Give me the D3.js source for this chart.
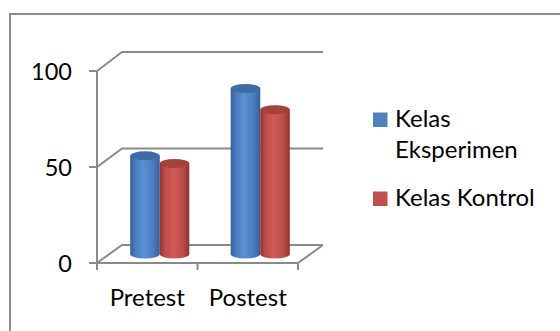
<!DOCTYPE html>
<html>
<head>
<meta charset="utf-8" />
<title>Pretest Postest</title>
<style>
html, body {
  margin: 0;
  background-color: #FFFFFF;
}
svg {
  display: block;
}
</style>
</head>
<body>
<script src="https://d3js.org/d3.v7.min.js"></script>
<script>

// data
var categories = ["Pretest", "Postest"];
var seriesNames = ["Kelas Eksperimen", "Kelas Kontrol"];
var eksperimen = [51, 86];
var kontrol = [47, 75];
var yTicks = [0, 50, 100];

var seriesValues = [eksperimen, kontrol];
var colors = [
  {dark: "#385f94", mid: "#4a7cbf", light: "#5c90d3", top: "#3e6ba6", legend: "#4f81bd"},
  {dark: "#8e3532", mid: "#bd4c49", light: "#d15c59", top: "#a5403d", legend: "#c0504d"}
];

var W = 560, H = 331;
var font = "Lato, 'Open Sans', sans-serif";

var svg = d3.select("body").append("svg")
  .attr("width", W)
  .attr("height", H);

// outer frame (runs off the right and bottom)
svg.append("rect")
  .attr("x", 10).attr("y", 14)
  .attr("width", 600).attr("height", 400)
  .attr("fill", "none")
  .attr("stroke", "#8c8c8c")
  .attr("stroke-width", 2);

// 3d box: front plane and back plane
var dx = 25;
var yFront = d3.scaleLinear().domain([0, 100]).range([263, 71]);
var yBack = d3.scaleLinear().domain([0, 100]).range([245, 52]);
var yMid = d3.scaleLinear().domain([0, 100]).range([254, 61.5]);

var x0 = d3.scaleBand().domain(categories).range([97, 298]);
var x1 = d3.scaleBand().domain(d3.range(seriesNames.length))
  .range([0, x0.bandwidth()]).paddingOuter(0.70);

var grid = svg.append("g")
  .attr("fill", "none")
  .attr("stroke", "#8a8a8a")
  .attr("stroke-width", 2);

var xL = x0.range()[0], xR = x0.range()[1];

// wall gridlines
yTicks.forEach(function(t) {
  grid.append("path")
    .attr("d", "M" + xL + "," + yFront(t) + "L" + (xL + dx) + "," + yBack(t) + "L" + (xR + dx) + "," + yBack(t));
  // tick marks on the value axis
  grid.append("line")
    .attr("x1", xL - 8).attr("x2", xL)
    .attr("y1", yFront(t)).attr("y2", yFront(t));
});

// floor front edge
grid.append("path")
  .attr("d", "M" + xL + "," + yFront(0) + "L" + xR + "," + yFront(0) + "L" + (xR + dx) + "," + yBack(0));

// value axis
grid.append("line")
  .attr("x1", xL).attr("x2", xL)
  .attr("y1", yFront(100)).attr("y2", yFront(0));

// category ticks
var catEdges = categories.map(function(c) { return x0(c); }).concat([xR]);
catEdges.forEach(function(x) {
  grid.append("line")
    .attr("x1", x).attr("x2", x)
    .attr("y1", yFront(0)).attr("y2", yFront(0) + 7);
});

// gradients for the cylinders
var defs = svg.append("defs");
colors.forEach(function(c, i) {
  var g = defs.append("linearGradient")
    .attr("id", "cyl" + i)
    .attr("x1", "0%").attr("x2", "100%")
    .attr("y1", "0%").attr("y2", "0%");
  g.append("stop").attr("offset", "0%").attr("stop-color", c.dark);
  g.append("stop").attr("offset", "18%").attr("stop-color", c.mid);
  g.append("stop").attr("offset", "45%").attr("stop-color", c.light);
  g.append("stop").attr("offset", "78%").attr("stop-color", c.mid);
  g.append("stop").attr("offset", "100%").attr("stop-color", c.dark);
});

// cylinders
var ry = 4.5;
var bars = svg.append("g");
categories.forEach(function(cat, ci) {
  seriesValues.forEach(function(vals, si) {
    var w = x1.bandwidth();
    var cx = x0(cat) + x1(si) + w / 2 + dx / 2;
    var yt = yMid(vals[ci]);
    var yb = yMid(0);
    var b = bars.append("g");
    b.append("ellipse")
      .attr("cx", cx).attr("cy", yb)
      .attr("rx", w / 2).attr("ry", ry)
      .attr("fill", "url(#cyl" + si + ")");
    b.append("rect")
      .attr("x", cx - w / 2).attr("y", yt)
      .attr("width", w).attr("height", yb - yt)
      .attr("fill", "url(#cyl" + si + ")");
    b.append("ellipse")
      .attr("cx", cx).attr("cy", yt)
      .attr("rx", w / 2).attr("ry", ry)
      .attr("fill", colors[si].top);
  });
});

// value labels
svg.append("g").selectAll("text")
  .data(yTicks)
  .join("text")
  .attr("x", 72)
  .attr("y", function(d) { return yFront(d) + 9; })
  .attr("text-anchor", "end")
  .attr("font-family", font)
  .attr("font-size", 23.5)
  .attr("fill", "#000")
  .text(function(d) { return d; });

// category labels
svg.append("g").selectAll("text")
  .data(categories)
  .join("text")
  .attr("x", function(d) { return x0(d) + x0.bandwidth() / 2; })
  .attr("y", 306)
  .attr("text-anchor", "middle")
  .attr("font-family", font)
  .attr("font-size", 24)
  .attr("fill", "#000")
  .text(function(d) { return d; });

// legend
var legendRows = [
  {lines: ["Kelas", "Eksperimen"], y: 127},
  {lines: ["Kelas Kontrol"], y: 206}
];
var legend = svg.append("g");
legendRows.forEach(function(r, i) {
  legend.append("rect")
    .attr("x", 373).attr("y", r.y - 14.5)
    .attr("width", 14.5).attr("height", 14.5)
    .attr("fill", colors[i].legend);
  r.lines.forEach(function(line, li) {
    legend.append("text")
      .attr("x", 395)
      .attr("y", r.y + li * 31)
      .attr("font-family", font)
      .attr("font-size", 24)
      .attr("fill", "#000")
      .text(line);
  });
});

</script>
</body>
</html>
